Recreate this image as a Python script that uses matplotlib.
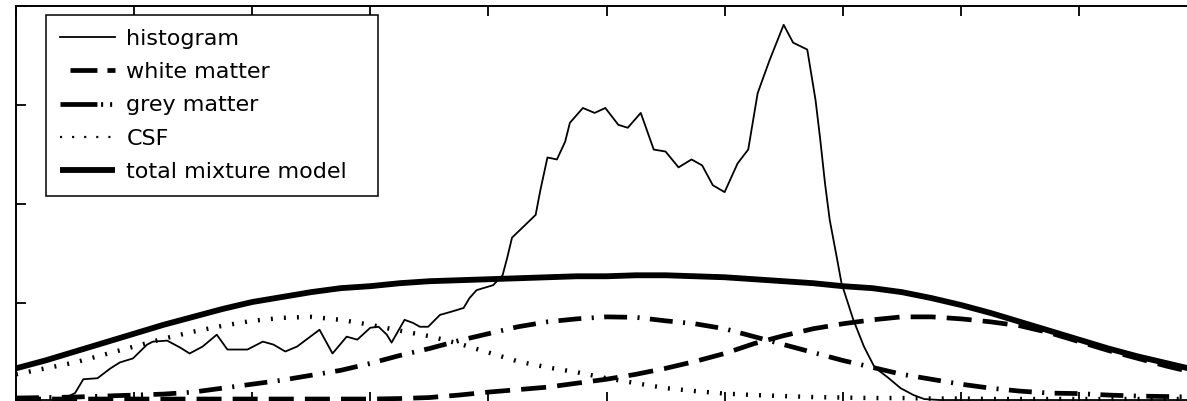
import matplotlib
matplotlib.use("Agg")
import matplotlib.pyplot as plt
from matplotlib.lines import Line2D

plt.rcParams["font.family"] = ["DejaVu Sans"]
plt.rcParams["lines.scale_dashes"] = False

# Intensity histogram (bin position, normalised count)
hist_x = [0, 2.0, 3.6, 4.3, 5.0, 5.7, 6.9, 8.0, 8.8, 9.9, 11.1, 11.6, 12.8, 13.9, 14.7,
          15.8, 17.0, 17.9, 19.6, 20.9, 21.8, 22.8, 23.8, 25.7, 26.8, 28.0, 28.9, 30.0,
          30.7, 31.4, 31.8, 32.9, 33.6, 34.2, 34.9, 35.9, 36.8, 37.9, 38.4, 39.0, 40.4,
          41.2, 41.6, 42.0, 44.0, 44.4, 45.0, 45.8, 46.5, 46.9, 48.0, 49.0, 49.9, 51.0,
          51.8, 52.9, 54.0, 55.0, 56.1, 57.2, 58.1, 59.0, 60.0, 61.1, 62.0, 62.8, 63.8,
          65.0, 65.8, 67.0, 67.7, 68.1, 68.5, 68.9, 69.5, 69.9, 70.9, 71.8, 72.7, 73.8,
          74.9, 76.0, 76.9, 78.2, 100]
hist_y = [0.02, 0.02, 0.02, 0.05, 0.09, 0.23, 0.24, 0.34, 0.40, 0.44, 0.58, 0.61, 0.62,
          0.55, 0.49, 0.56, 0.68, 0.53, 0.53, 0.61, 0.58, 0.51, 0.56, 0.73, 0.49, 0.66,
          0.63, 0.75, 0.76, 0.68, 0.60, 0.83, 0.80, 0.76, 0.76, 0.88, 0.91, 0.95, 1.05,
          1.13, 1.18, 1.28, 1.46, 1.66, 1.89, 2.14, 2.47, 2.45, 2.63, 2.82, 2.97, 2.92,
          2.97, 2.80, 2.77, 2.92, 2.55, 2.53, 2.37, 2.45, 2.39, 2.19, 2.12, 2.41, 2.55,
          3.12, 3.45, 3.81, 3.63, 3.56, 3.05, 2.65, 2.21, 1.84, 1.46, 1.20, 0.83, 0.56,
          0.35, 0.25, 0.14, 0.07, 0.03, 0.02, 0.02]

# Fitted tissue classes sampled along the intensity axis
model_x = [0, 2.5, 5, 7.5, 10, 12.5, 15, 17.5, 20, 22.5, 25, 27.5, 30, 32.5, 35, 37.5,
           40, 42.5, 45, 47.5, 50, 52.5, 55, 57.5, 60, 62.5, 65, 67.5, 70, 72.5, 75,
           77.5, 80, 82.5, 85, 87.5, 90, 92.5, 95, 97.5, 100]
white_matter = [0.03, 0.03, 0.03, 0.03, 0.03, 0.03, 0.03, 0.03, 0.03, 0.03, 0.03, 0.03,
                0.03, 0.035, 0.045, 0.07, 0.10, 0.125, 0.15, 0.19, 0.23, 0.28, 0.34,
                0.41, 0.49, 0.59, 0.67, 0.74, 0.79, 0.83, 0.86, 0.86, 0.84, 0.81, 0.77,
                0.70, 0.61, 0.52, 0.44, 0.36, 0.29]
grey_matter = [0.04, 0.045, 0.05, 0.06, 0.07, 0.08, 0.10, 0.14, 0.18, 0.22, 0.27, 0.32,
               0.39, 0.47, 0.54, 0.62, 0.69, 0.76, 0.81, 0.84, 0.86, 0.855, 0.82, 0.79,
               0.74, 0.66, 0.58, 0.50, 0.42, 0.35, 0.28, 0.23, 0.18, 0.14, 0.11, 0.09,
               0.085, 0.07, 0.06, 0.055, 0.05]
csf = [0.28, 0.34, 0.40, 0.48, 0.56, 0.64, 0.71, 0.77, 0.82, 0.85, 0.86, 0.83, 0.78,
       0.72, 0.665, 0.59, 0.50, 0.41, 0.35, 0.30, 0.24, 0.19, 0.14, 0.11, 0.085, 0.07,
       0.06, 0.05, 0.045, 0.04, 0.04, 0.035, 0.035, 0.03, 0.03, 0.03, 0.03, 0.03, 0.03,
       0.03, 0.03]
total_model = [0.34, 0.42, 0.51, 0.60, 0.69, 0.78, 0.86, 0.94, 1.01, 1.06, 1.11, 1.15,
               1.17, 1.20, 1.22, 1.23, 1.24, 1.25, 1.26, 1.27, 1.27, 1.28, 1.28, 1.27,
               1.26, 1.24, 1.22, 1.20, 1.17, 1.15, 1.11, 1.05, 0.98, 0.90, 0.81, 0.72,
               0.63, 0.54, 0.46, 0.39, 0.32]

labels = ["histogram", "white matter", "grey matter", "CSF", "total mixture model"]

W, H = 1187, 401
fig = plt.figure(figsize=(W / 100, H / 100), dpi=100)
ax = fig.add_axes([16 / W, (H - 402) / H, 1181 / W, 396 / H])

ax.plot(hist_x, hist_y, color="black", lw=1.3)
ax.plot(model_x, white_matter, color="black", lw=3.4, dashes=(18, 8),
        dash_capstyle="butt")
ax.plot(model_x, grey_matter, color="black", lw=3.4, dashes=(16.5, 7.5, 1.5, 7.5),
        dash_capstyle="butt")
ax.plot(model_x, csf, color="black", lw=3.2, dashes=(1.4, 8), dash_capstyle="butt")
ax.plot(model_x, total_model, color="black", lw=4.2, solid_capstyle="butt")

ax.set_xlim(0, 100)
ax.set_ylim(0, 4)
ax.set_xticks(range(0, 101, 10))
ax.set_yticks(range(0, 5))
ax.tick_params(direction="in", length=7, width=1.3, top=True, right=True,
               labelbottom=False, labelleft=False)
for s in ax.spines.values():
    s.set_linewidth(1.4)

# Legend keys with the short dash phases used in the key box
keys = [
    Line2D([], [], color="black", lw=1.3),
    Line2D([], [], color="black", lw=3.4, linestyle=(19.4, (19.4, 7.2)),
           dash_capstyle="butt"),
    Line2D([], [], color="black", lw=3.4, linestyle=(0, (26.6, 2.6, 1.5, 5.0, 1.5, 10)),
           dash_capstyle="butt"),
    Line2D([], [], color="black", lw=1.6, linestyle=(0, (1.5, 7.2)),
           dash_capstyle="butt"),
    Line2D([], [], color="black", lw=4.2, solid_capstyle="butt"),
]
leg = ax.legend(keys, labels, loc="upper left",
                bbox_to_anchor=(46 / W, 1 - 192 / H, (378 - 46) / W, (192 - 15) / H),
                bbox_transform=fig.transFigure, mode="expand", borderaxespad=0,
                fontsize=16, handlelength=2.5, handletextpad=0.5, borderpad=0.62,
                labelspacing=0.6, fancybox=False, framealpha=1, edgecolor="black")
leg.get_frame().set_linewidth(1.1)

fig.savefig("out.png", dpi=100)
